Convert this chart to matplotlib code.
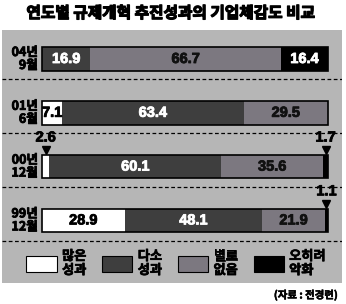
import matplotlib
matplotlib.use("Agg")
import matplotlib.pyplot as plt
import matplotlib.patheffects as pe
import numpy as np

plt.rcParams['font.family'] = ['Noto Sans CJK KR', 'DejaVu Sans']

title = "연도별 규제개혁 추진성과의 기업체감도 비교"
rows = ["04년\n9월", "01년\n6월", "00년\n12월", "99년\n12월"]
categories = ["많은\n성과", "다소\n성과", "별로\n없음", "오히려\n악화"]
many = [0.0, 7.1, 2.6, 28.9]
some = [16.9, 63.4, 60.1, 48.1]
little = [66.7, 29.5, 35.6, 21.9]
worse = [16.4, 0.0, 1.7, 1.1]
source = "(자료 : 전경련)"

colors = ["#ffffff", "#3e3e3e", "#7c7880", "#000000"]
txtcol = ["#000000", "#ffffff", "#111111", "#ffffff"]
bg = "#b6b6b6"
numfont = ['Liberation Sans', 'DejaVu Sans']


def thick(c, w=0.7):
    return [pe.withStroke(linewidth=w, foreground=c)]


W, H = 346, 304
fig = plt.figure(figsize=(W / 100, H / 100), dpi=100)
fig.patch.set_facecolor("white")

# panel axes: px x 2..342, y 30..283
ax = fig.add_axes([2 / W, 1 - 283 / H, 340 / W, 253 / H])
ax.set_facecolor(bg)
pxu = 2.86  # px per percent
ax.set_xlim((2 - 42) / pxu, (342 - 42) / pxu)
rp = 53.8
ax.set_ylim((283 - 59) / rp, (30 - 59) / rp)
for s in ax.spines.values():
    s.set_visible(False)
ax.set_xticks([])
ax.set_yticks([])

y = np.arange(len(rows))
series = [many, some, little, worse]
left = np.zeros(len(rows))
for k, vals in enumerate(series):
    vals = np.array(vals)
    ax.barh(y, vals, left=left, height=0.44, color=colors[k],
            edgecolor="none", linewidth=0, label=categories[k])
    for i, v in enumerate(vals):
        if v >= 5:
            ax.text(left[i] + v / 2, y[i], f"{v:.1f}", ha="center", va="center",
                    color=txtcol[k], fontsize=10.5, fontweight="bold",
                    family=numfont, path_effects=thick(txtcol[k], 0.6))
        elif v > 0:
            xc = left[i] + v / 2
            ax.plot([xc], [y[i] - 0.3], marker="v", color="black",
                    markersize=6, clip_on=False)
            ax.text(xc, y[i] - 0.41, f"{v:.1f}", ha="center", va="bottom",
                    color="black", fontsize=10.5, fontweight="bold",
                    family=numfont, path_effects=thick("black", 0.6))
    left = left + vals

# outer frame of each bar
ax.barh(y, [100] * len(rows), height=0.44, fill=False, edgecolor="black",
        linewidth=1.2)

# dashed separators
for i in range(len(rows)):
    ax.axhline(y[i] + 0.375, color="black", linestyle=(0, (3, 2)), linewidth=0.9)

# row labels
for i, r in enumerate(rows):
    ax.text(-1.5, y[i], r, ha="right", va="center", fontsize=9,
            fontweight="black", linespacing=1.0, color="black",
            path_effects=thick("black", 0.6))

# legend
leg_handles = [plt.Rectangle((0, 0), 1, 1, facecolor=c, edgecolor="black",
                             linewidth=0.8) for c in colors]
leg = fig.legend(handles=leg_handles, labels=categories, ncol=4,
                 loc="center", bbox_to_anchor=(176 / W, 1 - 263 / H),
                 frameon=False, handlelength=2.3, handleheight=1.4,
                 handletextpad=0.4, columnspacing=1.2,
                 prop={'weight': 'black', 'size': 9.5})
for t in leg.get_texts():
    t.set_linespacing(1.0)
    t.set_path_effects(thick("black", 0.5))

fig.text(170 / W, 1 - 13 / H, title, ha="center", va="center", fontsize=11.3,
         fontweight="black", path_effects=thick("black", 0.9))
fig.text(338 / W, 1 - 295 / H, source, ha="right", va="center", fontsize=7.5,
         fontweight="bold", path_effects=thick("black", 0.4))

fig.savefig("out.png", dpi=100, facecolor="white")
